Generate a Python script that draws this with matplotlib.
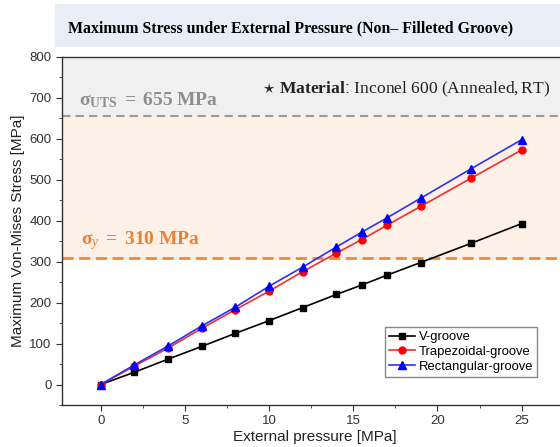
import matplotlib.pyplot as plt
import matplotlib.patches as mpatches
from matplotlib.ticker import MultipleLocator

# datos
pressure = [0, 2, 4, 6, 8, 10, 12, 14, 15.5, 17, 19, 22, 25]
v_groove = [0, 30, 62, 93, 125, 156, 188, 220, 243, 267, 298, 345, 393]
trap_groove = [0, 45, 89, 137, 183, 228, 276, 321, 354, 389, 435, 504, 573]
rect_groove = [0, 48, 94, 143, 189, 240, 287, 336, 372, 407, 455, 527, 598]
sigma_uts = 655
sigma_y = 310

plt.rcParams['font.family'] = ['Liberation Sans', 'DejaVu Sans']
plt.rcParams['mathtext.fontset'] = 'custom'
plt.rcParams['mathtext.rm'] = 'Liberation Serif'
plt.rcParams['mathtext.it'] = 'Liberation Serif:italic'
plt.rcParams['mathtext.bf'] = 'Liberation Serif:bold'

fig = plt.figure(figsize=(5.6, 4.47), dpi=100)
ax = fig.add_axes([0.1107, 0.094, 0.902, 0.7785])

# caja del titulo
fig.patches.append(mpatches.Rectangle((0.098, 0.895), 0.91, 0.096, transform=fig.transFigure,
                                      facecolor='#e9edf6', edgecolor='none', zorder=0))
fig.text(0.518, 0.937, 'Maximum Stress under External Pressure (Non\u2013 Filleted Groove)',
         ha='center', va='center', fontsize=11.4, fontweight='bold', family='Liberation Serif')

# bandas
ax.axhspan(sigma_uts, 800, color='#f0f0f0', zorder=0)
ax.axhspan(sigma_y, sigma_uts, color='#fcf0e7', zorder=0)
ax.axhline(sigma_uts, color='#9a9a9a', ls='--', lw=1.5, dashes=(4, 2.5), zorder=1)
ax.axhline(sigma_y, color='#f08a30', ls='--', lw=2, dashes=(4, 2), zorder=1)

ax.text(-1.3, 695, r'$\mathbf{\sigma_{UTS}}\ \mathbf{=}\ \mathbf{655\ MPa}$', color='#8e8e8e',
        fontsize=14, va='center', ha='left')
ax.text(-1.2, 352, r'$\mathbf{\sigma_{\mathit{y}}}\ \mathbf{=}\ \mathbf{310\ MPa}$', color='#ee8030',
        fontsize=14, va='center', ha='left')
ax.text(26.7, 722, r'$\star$ $\mathbf{Material}$: $\mathrm{Inconel\ 600\ (Annealed,RT)}$',
        fontsize=12.6, ha='right', va='center', color='#222222')

ax.plot(pressure, v_groove, '-s', color='black', lw=1.2, ms=4.5, label='V-groove', zorder=3)
ax.plot(pressure, trap_groove, '-o', color='#f03030', mfc='red', mec='red', lw=1.2, ms=5,
        label='Trapezoidal-groove', zorder=3)
ax.plot(pressure, rect_groove, '-^', color='#3030f0', mfc='blue', mec='blue', lw=1.2, ms=6,
        label='Rectangular-groove', zorder=4)

ax.set_xlim(-2.3, 27.7)
ax.set_ylim(-50, 800)
ax.xaxis.set_major_locator(MultipleLocator(5))
ax.xaxis.set_minor_locator(MultipleLocator(2.5))
ax.yaxis.set_major_locator(MultipleLocator(100))
ax.yaxis.set_minor_locator(MultipleLocator(50))
ax.tick_params(which='both', direction='out', labelsize=9.5, colors='#333333', top=False, right=False)
ax.tick_params(which='major', length=4)
ax.tick_params(which='minor', length=2.5)
for s in ax.spines.values():
    s.set_color('#333333')
    s.set_linewidth(1)

ax.set_xlabel('External pressure [MPa]', fontsize=11, color='#222222', labelpad=2)
ax.set_ylabel('Maximum Von-Mises Stress [MPa]', fontsize=11, color='#222222', labelpad=3)

leg = ax.legend(loc='lower right', bbox_to_anchor=(0.971, 0.143), bbox_transform=fig.transFigure,
                fontsize=9.4, fancybox=False, edgecolor='#888888', framealpha=1,
                handlelength=2.0, borderpad=0.3, labelspacing=0.2, handletextpad=0.3)

fig.savefig('out.png', dpi=100)
